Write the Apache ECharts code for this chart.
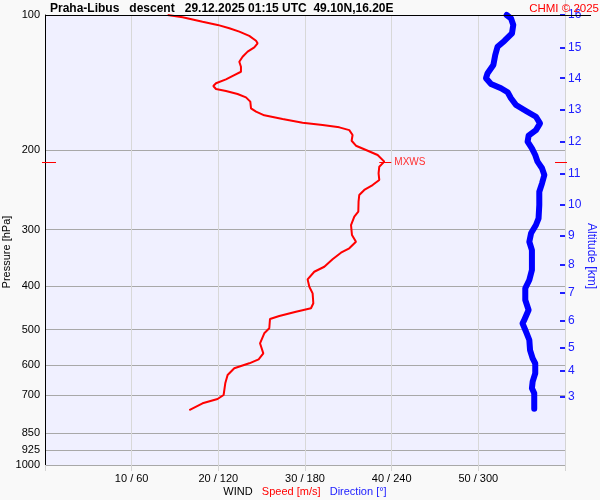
<!DOCTYPE html>
<html>
<head>
<meta charset="utf-8">
<title>Praha-Libus descent</title>
<script src="https://cdn.jsdelivr.net/npm/echarts@6/dist/echarts.min.js"></script>
<style>
html, body { margin: 0; padding: 0; background: #f9f9f9; }
#chart { width: 600px; height: 500px; }
</style>
</head>
<body>
<div id="chart"></div>
<script>
// wind speed [m/s] against pressure [hPa]
var speedPressure = [100, 101.2, 103.5, 105.2, 107.0, 108.9, 111.3, 114.1, 115.6, 118.0,
    120.6, 123.8, 127.0, 130.3, 133.7, 136.0, 139.0, 141.8, 143.8, 146.0,
    147.5, 149.8, 152.4, 155.8, 161.2, 164.0, 167.1, 170.3, 173.6, 175.6,
    177.7, 180.2, 184.8, 190.3, 195.2, 199.5, 204.7, 211.8, 217.3, 224.8,
    232.6, 238.7, 244.8, 251.2, 259.9, 273.6, 280.7, 292.9, 308.3, 319.1,
    329.9, 337.5, 349.1, 362.6, 372.0, 386.8, 401.7, 415.5, 437.1, 448.5,
    456.3, 466.6, 473.8, 496.8, 509.7, 536.5, 564.7, 582.3, 594.3, 609.7,
    631.0, 658.3, 698.9, 713.4, 729.3, 754.8];
var speedValues = [14.15, 15.88, 18.18, 19.91, 21.27, 22.42, 23.57, 24.35, 24.53, 24.15,
    23.38, 22.80, 22.42, 22.61, 22.61, 21.84, 20.88, 19.73, 19.42, 19.73,
    20.88, 22.22, 23.19, 23.69, 23.77, 24.35, 25.30, 27.41, 29.72, 32.03,
    33.96, 35.11, 35.49, 35.38, 35.88, 37.04, 38.38, 39.15, 38.57, 38.49,
    38.57, 37.80, 36.84, 36.26, 36.18, 36.15, 35.69, 35.31, 35.42, 35.88,
    35.11, 34.15, 33.18, 32.23, 31.07, 30.30, 30.50, 30.88, 30.96, 30.69,
    28.96, 27.03, 25.96, 25.88, 25.30, 24.81, 25.19, 24.65, 23.57, 21.84,
    21.07, 20.80, 20.61, 19.91, 18.18, 16.65];

// wind direction [deg] against pressure [hPa]
var dirPressure = [100, 101.7, 105.2, 109.8, 114.2, 117.6, 122.7, 129.2, 134.7, 138.2,
    142.3, 145.5, 148.5, 153.1, 158.5, 163.4, 168.3, 174.1, 180.2, 185.4,
    191.2, 197.8, 204.7, 211.8, 219.1, 226.7, 236.6, 247.0, 264.4, 283.1,
    292.9, 305.6, 319.1, 333.0, 368.8, 388.1, 404.9, 430.0, 452.3, 476.2,
    484.3, 505.6, 527.5, 555.3, 579.3, 594.3, 625.5, 653.0, 675.4, 692.8,
    750.0];
var dirValues = [319.6, 322.6, 324.2, 323.3, 318.0, 313.3, 311.7, 310.4, 306.4, 305.3,
    308.8, 315.7, 320.3, 322.6, 326.1, 333.0, 339.9, 342.7, 339.9, 334.8,
    334.1, 337.1, 339.4, 341.0, 344.1, 345.7, 344.1, 342.2, 342.2, 341.7,
    339.9, 336.5, 335.3, 337.1, 337.1, 335.3, 332.5, 332.5, 334.8, 331.8,
    330.6, 333.0, 335.3, 335.8, 337.6, 339.4, 339.4, 337.6, 337.1, 338.7,
    338.7];

var pressureTicks = [100, 200, 300, 400, 500, 600, 700, 850, 925, 1000];
var speedTicks = [10, 20, 30, 40, 50];
var altitudeKm = [3, 4, 5, 6, 7, 8, 9, 10, 11, 12, 13, 14, 15, 16];
var altitudePressure = [705.1, 618.2, 548.7, 477.9, 413.3, 359.4, 308.8, 264.0, 225.3, 191.5, 162.3, 138.2, 118.0, 100];

var font = "'Liberation Sans', Arial, sans-serif";
var blue = "#2020ff";
var red = "#ff0000";

// maximum wind level
var maxIdx = 0;
speedValues.forEach(function(v, i) {
    if (v > speedValues[maxIdx]) maxIdx = i;
});

function kmLabel(value) {
    var best = 0;
    for (var i = 1; i < altitudePressure.length; i++) {
        if (Math.abs(altitudePressure[i] - value) < Math.abs(altitudePressure[best] - value)) best = i;
    }
    return String(altitudeKm[best]);
}

var myChart = echarts.init(document.getElementById("chart"));

var option = {
    backgroundColor: "#f9f9f9",
    animation: false,
    textStyle: { fontFamily: font },
    title: [
        {
            text: "Praha-Libus   descent   29.12.2025 01:15 UTC  49.10N,16.20E",
            left: 50,
            top: 3,
            padding: 0,
            textStyle: { fontSize: 12, fontWeight: "bold", color: "#000", fontFamily: font }
        },
        {
            text: "CHMI © 2025",
            right: 1,
            top: 3,
            padding: 0,
            textStyle: { fontSize: 11.5, fontWeight: "normal", color: red, fontFamily: font }
        }
    ],
    grid: {
        left: 45,
        right: 35,
        top: 15,
        bottom: 35,
        show: true,
        backgroundColor: "#f0f0ff",
        borderWidth: 0,
        containLabel: false,
        outerBoundsMode: "none"
    },
    xAxis: [
        {
            type: "value",
            min: 0,
            max: 60,
            interval: 10,
            position: "bottom",
            name: "{w|WIND}   {s|Speed [m/s]}   {d|Direction [°]}",
            nameLocation: "middle",
            nameGap: 21,
            nameMoveOverlap: false,
            nameTextStyle: {
                fontSize: 11,
                rich: {
                    w: { color: "#000", fontSize: 11, fontFamily: font },
                    s: { color: red, fontSize: 11, fontFamily: font },
                    d: { color: blue, fontSize: 11, fontFamily: font }
                }
            },
            axisLine: { show: false, onZero: false },
            axisTick: { show: true, length: 6, lineStyle: { color: "#d4d4d4" } },
            axisLabel: {
                customValues: speedTicks,
                color: "#000",
                fontSize: 11,
                margin: 8,
                formatter: function(v) {
                    return v + " / " + v * 6;
                }
            },
            splitLine: { show: true, lineStyle: { color: "#d8d8d8" } }
        },
        {
            type: "value",
            min: 0,
            max: 360,
            show: false
        }
    ],
    yAxis: [
        {
            type: "log",
            logBase: 10,
            min: 100,
            max: 1000,
            inverse: true,
            position: "left",
            name: "Pressure [hPa]",
            nameLocation: "middle",
            nameGap: 33,
            nameMoveOverlap: false,
            nameTextStyle: { color: "#000", fontSize: 11, padding: [0, 24, 0, 0] },
            axisLine: { show: true, onZero: false, lineStyle: { color: "#000", width: 1 } },
            axisTick: { show: false, customValues: pressureTicks },
            axisLabel: {
                customValues: pressureTicks,
                color: "#000",
                fontSize: 11,
                margin: 5,
                formatter: function(v) {
                    return String(Math.round(v));
                }
            },
            splitLine: { show: true, lineStyle: { color: "#a8a8a8", width: 1 } }
        },
        {
            type: "log",
            logBase: 10,
            min: 100,
            max: 1000,
            inverse: true,
            position: "right",
            name: "Altitude [km]",
            nameLocation: "middle",
            nameGap: 20,
            nameRotate: -90,
            nameMoveOverlap: false,
            nameTextStyle: { color: blue, fontSize: 12, padding: [0, 0, 0, 32] },
            axisLine: { show: true, onZero: false, lineStyle: { color: "#d4d4d4" } },
            axisTick: {
                show: true,
                inside: true,
                length: 5,
                customValues: altitudePressure,
                lineStyle: { color: blue, width: 2 }
            },
            axisLabel: {
                customValues: altitudePressure,
                formatter: kmLabel,
                color: blue,
                fontSize: 12,
                margin: 3
            },
            splitLine: { show: false }
        }
    ],
    graphic: [
        // frame: right edge runs up to the top of the page, top line runs past the altitude scale
        {
            type: "line",
            shape: { x1: 565.5, y1: 0, x2: 565.5, y2: 15 },
            style: { stroke: "#d4d4d4", lineWidth: 1 }
        },
        {
            type: "line",
            shape: { x1: 45, y1: 15.5, x2: 591, y2: 15.5 },
            style: { stroke: "#000", lineWidth: 1 },
            z: 100
        }
    ],
    series: [
        {
            name: "Direction",
            type: "line",
            xAxisIndex: 1,
            yAxisIndex: 0,
            showSymbol: false,
            clip: false,
            lineStyle: { color: "#0000ff", width: 6, cap: "round", join: "round" },
            data: dirValues.map(function(d, i) {
                return [d, dirPressure[i]];
            })
        },
        {
            name: "Speed",
            type: "line",
            xAxisIndex: 0,
            yAxisIndex: 0,
            showSymbol: false,
            clip: false,
            lineStyle: { color: red, width: 2 },
            data: speedValues.map(function(s, i) {
                return [s, speedPressure[i]];
            })
        },
        {
            // MXWS marker at maximum wind, plus the short ticks on both frame edges
            name: "MXWS",
            type: "custom",
            xAxisIndex: 0,
            yAxisIndex: 0,
            clip: false,
            data: [[speedValues[maxIdx], speedPressure[maxIdx]]],
            renderItem: function(params, api) {
                var pt = api.coord([api.value(0), api.value(1)]);
                var cs = params.coordSys;
                var y = Math.round(pt[1]) + 0.5;
                var st = { stroke: red, lineWidth: 1 };
                return {
                    type: "group",
                    children: [
                        { type: "line", shape: { x1: pt[0] - 5, y1: y, x2: pt[0] + 7, y2: y }, style: st },
                        {
                            type: "text",
                            x: pt[0] + 10,
                            y: y,
                            style: { text: "MXWS", fill: "#ff3030", font: "10px " + font, verticalAlign: "middle" }
                        },
                        { type: "line", shape: { x1: cs.x - 3, y1: y, x2: cs.x + 11, y2: y }, style: st },
                        { type: "line", shape: { x1: cs.x + cs.width - 10, y1: y, x2: cs.x + cs.width + 2, y2: y }, style: st }
                    ]
                };
            }
        }
    ]
};

myChart.setOption(option);
</script>
</body>
</html>
